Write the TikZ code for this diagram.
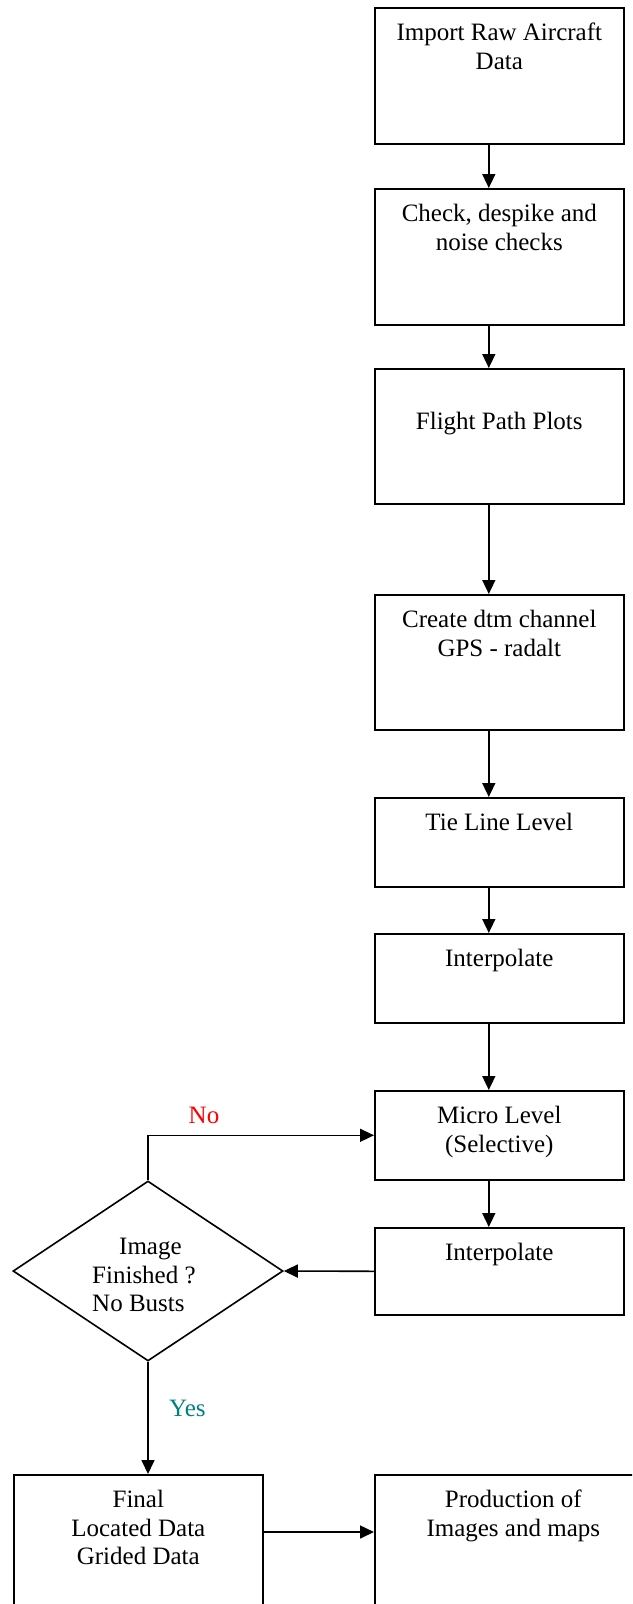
\documentclass[tikz,border=0pt]{standalone}
\usepackage{fontspec}
\setmainfont{Liberation Serif}
\usetikzlibrary{arrows.meta,shapes.geometric,calc}
\definecolor{noRed}{RGB}{255,0,0}
\definecolor{yesTeal}{RGB}{0,128,128}
\begin{document}
\begin{tikzpicture}[x=1pt,y=-1pt,
  every node/.style={font=\fontsize{25}{28.75}\selectfont},
  box/.style={draw,line width=1.6pt,anchor=north west,inner sep=0pt,minimum width=249pt},
  txt/.style={anchor=north,inner sep=0pt,align=center},
  arr/.style={line width=1.6pt,-{Triangle[length=14pt,width=13pt]}}]
\useasboundingbox (0,0) rectangle (632,1604);
\clip (0,0) rectangle (632,1604);
% boxes
\node[box,minimum height=136pt] (b1) at (374,7) {};
\node[box,minimum height=136pt] (b2) at (374,188) {};
\node[box,minimum height=135pt] (b3) at (374,368) {};
\node[box,minimum height=135pt] (b4) at (374,594) {};
\node[box,minimum height=89pt] (b5) at (374,797) {};
\node[box,minimum height=89pt] (b6) at (374,933) {};
\node[box,minimum height=89pt] (b7) at (374,1090) {};
\node[box,minimum height=87pt] (b8) at (374,1227) {};
\node[box,minimum height=200pt] (b9) at (13,1474) {};
\node[box,minimum width=277pt,minimum height=200pt] (b10) at (374,1474) {};
\node[draw,line width=1.6pt,diamond,minimum width=270pt,minimum height=180pt,inner sep=0pt] (dia) at (148,1271) {};
% texts
\node[txt] (t1) at ($(b1.north)+(0,13)$) {\strut Import Raw Aircraft\\Data};
\node[txt] (t2) at ($(b2.north)+(0,13)$) {\strut Check, despike and\\noise checks};
\node[txt] (t3) at ($(b3.north)+(0,41)$) {\strut Flight Path Plots};
\node[txt] (t4) at ($(b4.north)+(0,13)$) {\strut Create dtm channel\\GPS - radalt};
\node[txt] (t5) at ($(b5.north)+(0,13)$) {\strut Tie Line Level};
\node[txt] (t6) at ($(b6.north)+(0,13)$) {\strut Interpolate};
\node[txt] (t7) at ($(b7.north)+(0,13)$) {\strut Micro Level\\(Selective)};
\node[txt] (t8) at ($(b8.north)+(0,13)$) {\strut Interpolate};
\node[txt] (t9) at ($(b9.north)+(0,13)$) {\strut Final\\Located Data\\Grided Data};
\node[txt] (t10) at ($(b10.north)+(0,13)$) {\strut Production of\\Images and maps};
\node[anchor=north west,inner sep=0pt,align=left] (td) at (92,1234) {\strut\hspace*{27pt}Image\\Finished ?\\No Busts};
\node[anchor=base,inner sep=0pt,text=noRed] (no) at (204,1123) {No};
\node[anchor=base west,inner sep=0pt,text=yesTeal] (yes) at (169,1416) {Yes};
% connectors
\draw[arr] ($(b1.south)+(-10.5,0)$) -- ($(b2.north)+(-10.5,0)$);
\draw[arr] ($(b2.south)+(-10.5,0)$) -- ($(b3.north)+(-10.5,0)$);
\draw[arr] ($(b3.south)+(-10.5,0)$) -- ($(b4.north)+(-10.5,0)$);
\draw[arr] ($(b4.south)+(-10.5,0)$) -- ($(b5.north)+(-10.5,0)$);
\draw[arr] ($(b5.south)+(-10.5,0)$) -- ($(b6.north)+(-10.5,0)$);
\draw[arr] ($(b6.south)+(-10.5,0)$) -- ($(b7.north)+(-10.5,0)$);
\draw[arr] ($(b7.south)+(-10.5,0)$) -- ($(b8.north)+(-10.5,0)$);
\draw[arr] (b8.west) -- (dia.east);
\draw[arr] (dia.north) |- (b7.west);
\draw[arr] (dia.south) -- (dia.south |- b9.north);
\coordinate (m) at ($(b9.north east)+(0,58)$);
\draw[arr] (m) -- (m -| b10.west);
\end{tikzpicture}
\end{document}
